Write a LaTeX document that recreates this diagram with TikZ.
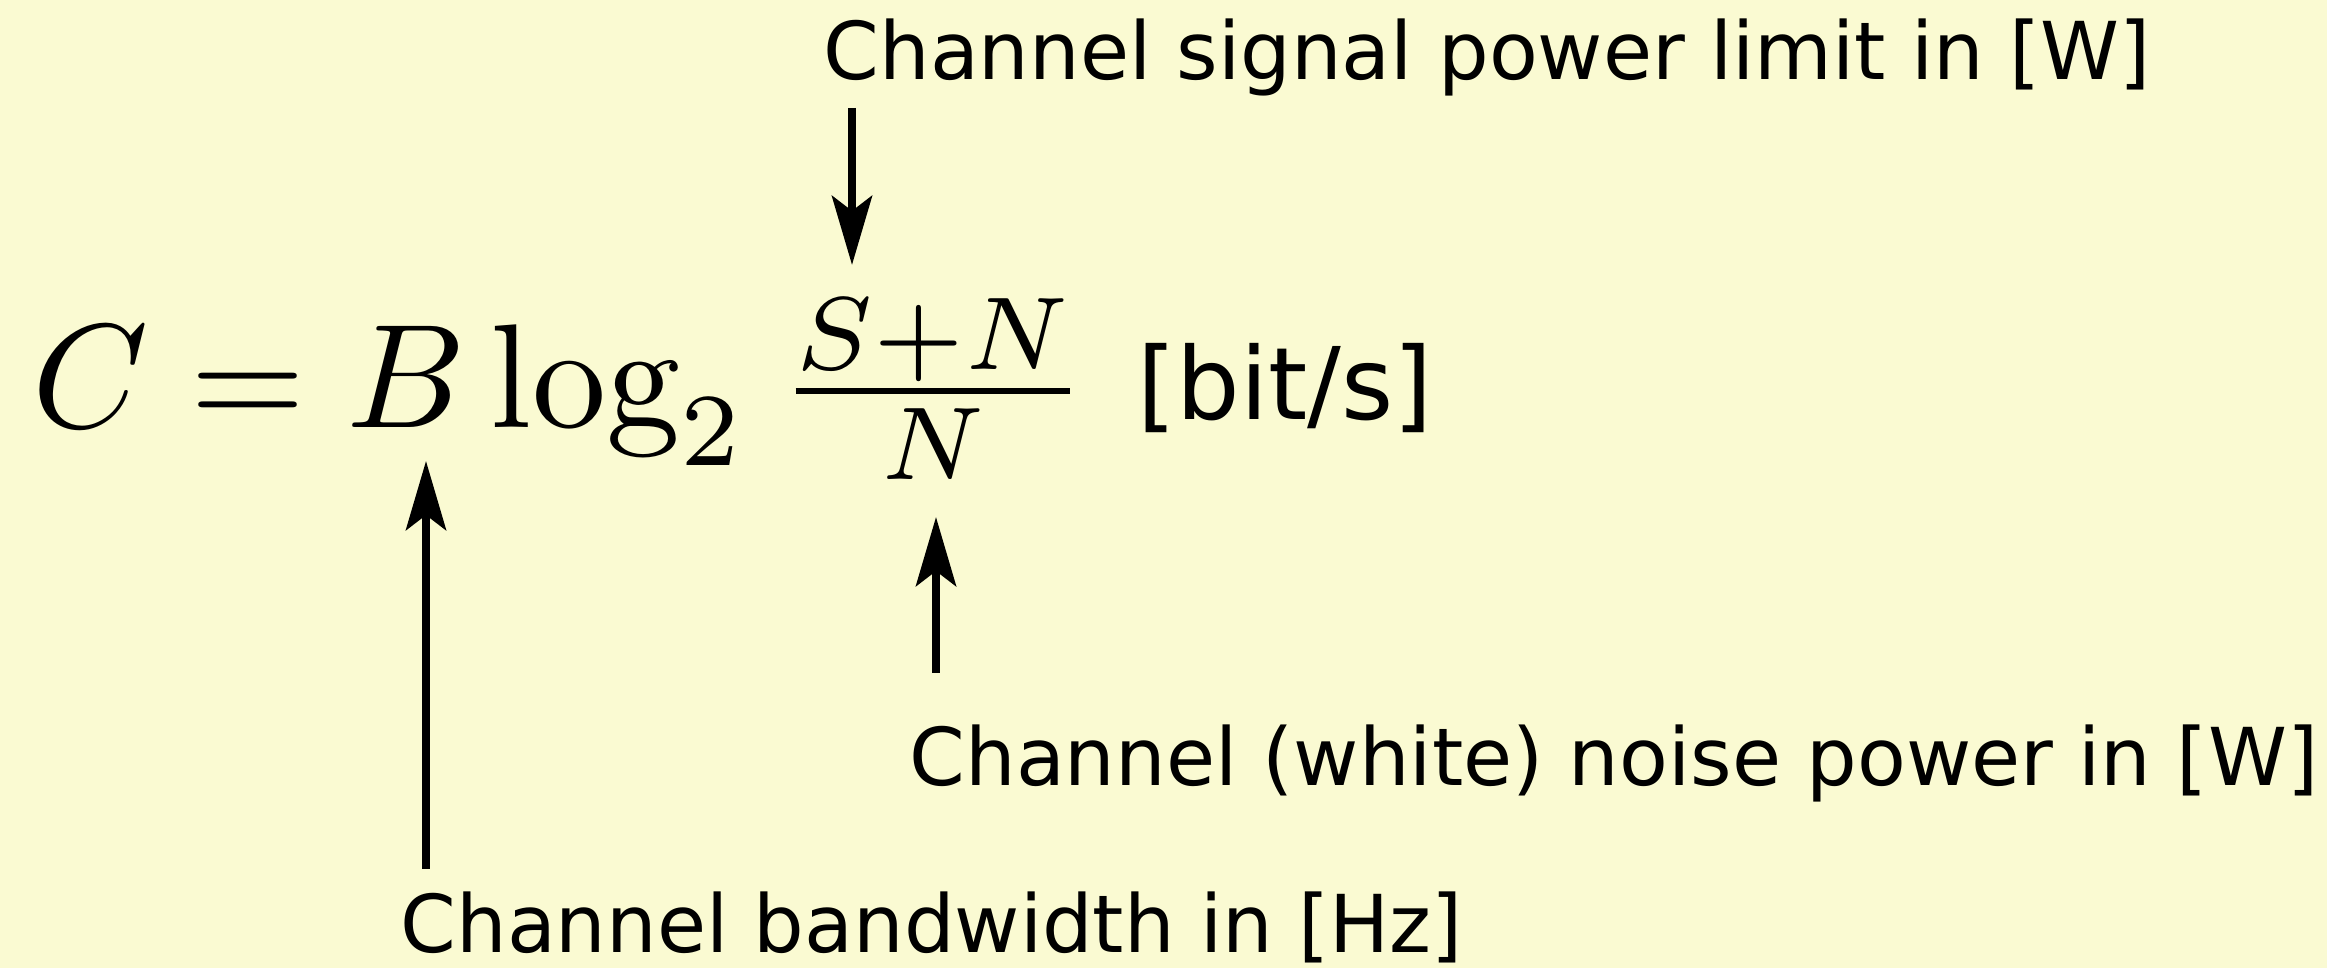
\documentclass[tikz,border=0pt]{standalone}
\usepackage{graphicx}
\usepackage{fontspec}
\newfontfamily\labelfont{DejaVu Sans}
\usetikzlibrary{arrows.meta}
\definecolor{bgyellow}{HTML}{FAFAD2}
\tikzset{
  lbl/.style={anchor=base west, inner sep=0pt, font=\labelfont\fontsize{22.7}{27}\selectfont},
  arr/.style={line width=0.08cm, -{Stealth[length=0.69cm, width=0.40cm, inset=0.15cm]}},
}
\begin{document}
\begin{tikzpicture}[x=0.01cm, y=-0.01cm]
\fill[bgyellow] (0,0) rectangle (2327,968);
\useasboundingbox (0,0) rectangle (2327,968);
% formula
\node[anchor=base west, inner sep=0pt, font=\fontsize{10}{12}\selectfont] (formula) at (32,428)
  {\scalebox{4.21}{$C = B \log_2 \mkern0.8mu \frac{S+N}{N}$}};
\node[anchor=base west, inner sep=0pt, font=\labelfont\fontsize{28.5}{34}\selectfont] (unit) at (1137,420) {[bit/s]};
% labels
\node[lbl] (sig) at (823,80) {Channel signal power limit in [W]};
\node[lbl] (noise) at (909,786) {Channel (white) noise power in [W]};
\node[lbl] (bw) at (400,953) {Channel bandwidth in [Hz]};
% arrow ends
\coordinate (sigS) at (852,108);
\coordinate (sigT) at (852,265);
\coordinate (noiseS) at (936,673);
\coordinate (noiseT) at (936,517);
\coordinate (bwS) at (426,869);
\coordinate (bwT) at (426,461);
\draw[arr] (sigS) -- (sigT);
\draw[arr] (noiseS) -- (noiseT);
\draw[arr] (bwS) -- (bwT);
\end{tikzpicture}
\end{document}
